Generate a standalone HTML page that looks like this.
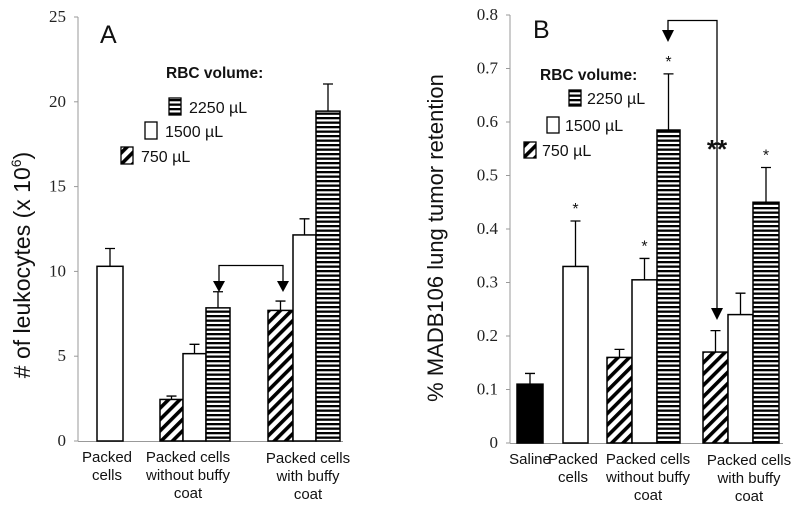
<!DOCTYPE html>
<html><head><meta charset="utf-8"><style>
html,body{margin:0;padding:0;background:#fff}
svg{display:block}
.tick{font-family:"Liberation Serif",serif;font-size:17px;fill:#222}
.lab{font-family:"Liberation Sans",sans-serif;fill:#111}
</style></head><body>
<svg id="chart" width="800" height="507" viewBox="0 0 800 507" xmlns="http://www.w3.org/2000/svg">
<defs>
<pattern id="diag" patternUnits="userSpaceOnUse" width="8" height="8" patternTransform="rotate(45)"><rect width="8" height="8" fill="#fff"/><rect width="3.6" height="8" fill="#000"/></pattern>
<pattern id="horiz" patternUnits="userSpaceOnUse" width="4" height="4.5"><rect width="4" height="4.5" fill="#fff"/><rect width="4" height="2.3" fill="#000"/></pattern>
</defs>
<g id="gA"></g>
<g id="gB"></g>
</svg>
<script>
// Panel A data
const catsA = ["Packed cells","Packed cells without buffy coat","Packed cells with buffy coat"];
const seriesA = ["white","diag","white","horiz","diag","white","horiz"];
const valuesA = [10.3, 2.45, 5.15, 7.85, 7.7, 12.15, 19.45];
const errorsA = [11.35, 2.65, 5.7, 8.8, 8.25, 13.1, 21.05];
const barLeftA = [97,160,183,206,268,293,316];
const ticksA = [0,5,10,15,20,25];
// Panel B data
const seriesB = ["black","white","diag","white","horiz","diag","white","horiz"];
const valuesB = [0.11, 0.33, 0.16, 0.305, 0.585, 0.17, 0.24, 0.45];
const errorsB = [0.13, 0.415, 0.175, 0.345, 0.69, 0.21, 0.28, 0.515];
const starsB = [false,true,false,true,true,false,false,true];
const barLeftB = [517,563,607,632,657,703,728,753];
const ticksB = [0,0.1,0.2,0.3,0.4,0.5,0.6,0.7,0.8];

const NS="http://www.w3.org/2000/svg";
function mk(p,tag,attrs,text){const e=document.createElementNS(NS,tag);for(const k in attrs)e.setAttribute(k,attrs[k]);if(text!==undefined)e.textContent=text;p.appendChild(e);return e;}
function fillOf(s){return s==="diag"?"url(#diag)":s==="horiz"?"url(#horiz)":s==="black"?"#000":"#fff";}
const yA=v=>441-v*(424/25);
const yB=v=>443-v*(428/0.8);

function panel(g,ax,y,ticks,fmt,axEnd,vals,errs,lefts,ser,bw,stars){
  let e=mk(g,"line",{x1:ax,y1:y(ticks[ticks.length-1]),x2:ax,y2:y(0),stroke:"#999","stroke-width":1});
  
  
  e=mk(g,"line",{x1:ax,y1:y(0)+0.5,x2:axEnd,y2:y(0)+0.5,stroke:"#999","stroke-width":1});
  
  
  ticks.forEach(t=>{
    const tl=mk(g,"line",{x1:ax-4,y1:y(t),x2:ax,y2:y(t),stroke:"#999"});
    
    
    const tx=mk(g,"text",{x:ax-12,y:y(t)+5,"text-anchor":"end",class:"tick"},fmt(t));
    
    
  });
  vals.forEach((v,i)=>{
    const x=lefts[i],w=bw[i]||25;
    const top=y(v),bot=y(0);
    const eb=mk(g,"path",{d:`M${x+w/2} ${top}V${y(errs[i])}M${x+w/2-5} ${y(errs[i])}H${x+w/2+5}`,stroke:"#000","stroke-width":1.3,fill:"none"});
    
    
    const r=mk(g,"rect",{x:x,y:top,width:w,height:bot-top,fill:fillOf(ser[i]),stroke:"#000","stroke-width":1.5});
    
    
    if(stars&&stars[i]){
      const s=mk(g,"text",{x:x+w/2,y:y(errs[i])-7,"text-anchor":"middle",class:"lab",style:"font-size:16px"},"*");
      
      
    }
  });
}
const gA=document.getElementById("gA"),gB=document.getElementById("gB");
panel(gA,78,yA,ticksA,t=>String(t),343,valuesA,errorsA,barLeftA,seriesA,[26,23,23,24,25,23,24],null);
panel(gB,510,yB,ticksB,t=>t===0?"0":t.toFixed(1),783,valuesB,errorsB,barLeftB,seriesB,[26,25,25,25,23,25,25,26],starsB);

function txt(g,x,y,s,style,attrs,name){const t=mk(g,"text",Object.assign({x:x,y:y,class:"lab",style:style},attrs||{}),s);return t;}
function lines(g,cx,y0,arr,name){arr.forEach((s,i)=>txt(g,cx,y0+i*18,s,"font-size:15px",{"text-anchor":"middle"},name));}
// Panel A labels
txt(gA,100,43,"A","font-size:25px",{},"panel-label-a");
const ya=txt(gA,0,0,"","font-size:23px",{"text-anchor":"middle",transform:"translate(30,265) rotate(-90)"},"y-axis-title-a");
ya.innerHTML='# of leukocytes  (x 10<tspan dy="-9" style="font-size:14px">6</tspan><tspan dy="9">)</tspan>';
lines(gA,107,462,["Packed","cells"],"x-label");
lines(gA,188,462,["Packed cells","without buffy","coat"],"x-label");
lines(gA,308,463,["Packed cells","with buffy","coat"],"x-label");
// legend A
txt(gA,166,78,"RBC volume:","font-size:15.5px;font-weight:bold",{},"legend-title");
[[169,98,"horiz","2250 µL"],[145,122,"white","1500 µL"],[121,147,"diag","750 µL"]].forEach(l=>{
  const r=mk(gA,"rect",{x:l[0],y:l[1],width:12,height:17,fill:fillOf(l[2]),stroke:"#000","stroke-width":1.3});
  
  
  txt(gA,l[0]+20,l[1]+15,l[3],"font-size:16px",{},"legend-entry");
});
let p=mk(gA,"path",{d:"M219 283V265.5H283V283",stroke:"#000","stroke-width":1.3,fill:"none"});


[219,283].forEach(x=>{const a=mk(gA,"path",{d:`M${x-6} 281H${x+6}L${x} 292Z`,fill:"#000"});});

// Panel B labels
txt(gB,533,38,"B","font-size:25px",{},"panel-label-b");
txt(gB,0,0,"% MADB106 lung tumor retention","font-size:22px",{"text-anchor":"middle",transform:"translate(443,238) rotate(-90)"},"y-axis-title-b");
txt(gB,530,464,"Saline","font-size:15px",{"text-anchor":"middle"},"x-label");
lines(gB,573,464,["Packed","cells"],"x-label");
lines(gB,648,464,["Packed cells","without buffy","coat"],"x-label");
lines(gB,749,465,["Packed cells","with buffy","coat"],"x-label");
txt(gB,540,80,"RBC volume:","font-size:15.5px;font-weight:bold",{},"legend-title");
[[569,90,"horiz","2250 µL"],[547,117,"white","1500 µL"],[524,142,"diag","750 µL"]].forEach(l=>{
  const r=mk(gB,"rect",{x:l[0],y:l[1],width:12,height:16,fill:fillOf(l[2]),stroke:"#000","stroke-width":1.3});
  
  
  txt(gB,l[0]+18,l[1]+14,l[3],"font-size:16px",{},"legend-entry");
});
p=mk(gB,"path",{d:"M668 32V20.5H717V308",stroke:"#000","stroke-width":1.3,fill:"none"});


[[668,30],[717,308]].forEach(a=>{const h=mk(gB,"path",{d:`M${a[0]-6} ${a[1]}H${a[0]+6}L${a[0]} ${a[1]+12}Z`,fill:"#000"});});
const ds=txt(gB,717,158,"**","font-size:26px;font-weight:bold",{"text-anchor":"middle"},"significance-double-star");
</script>
</body></html>
